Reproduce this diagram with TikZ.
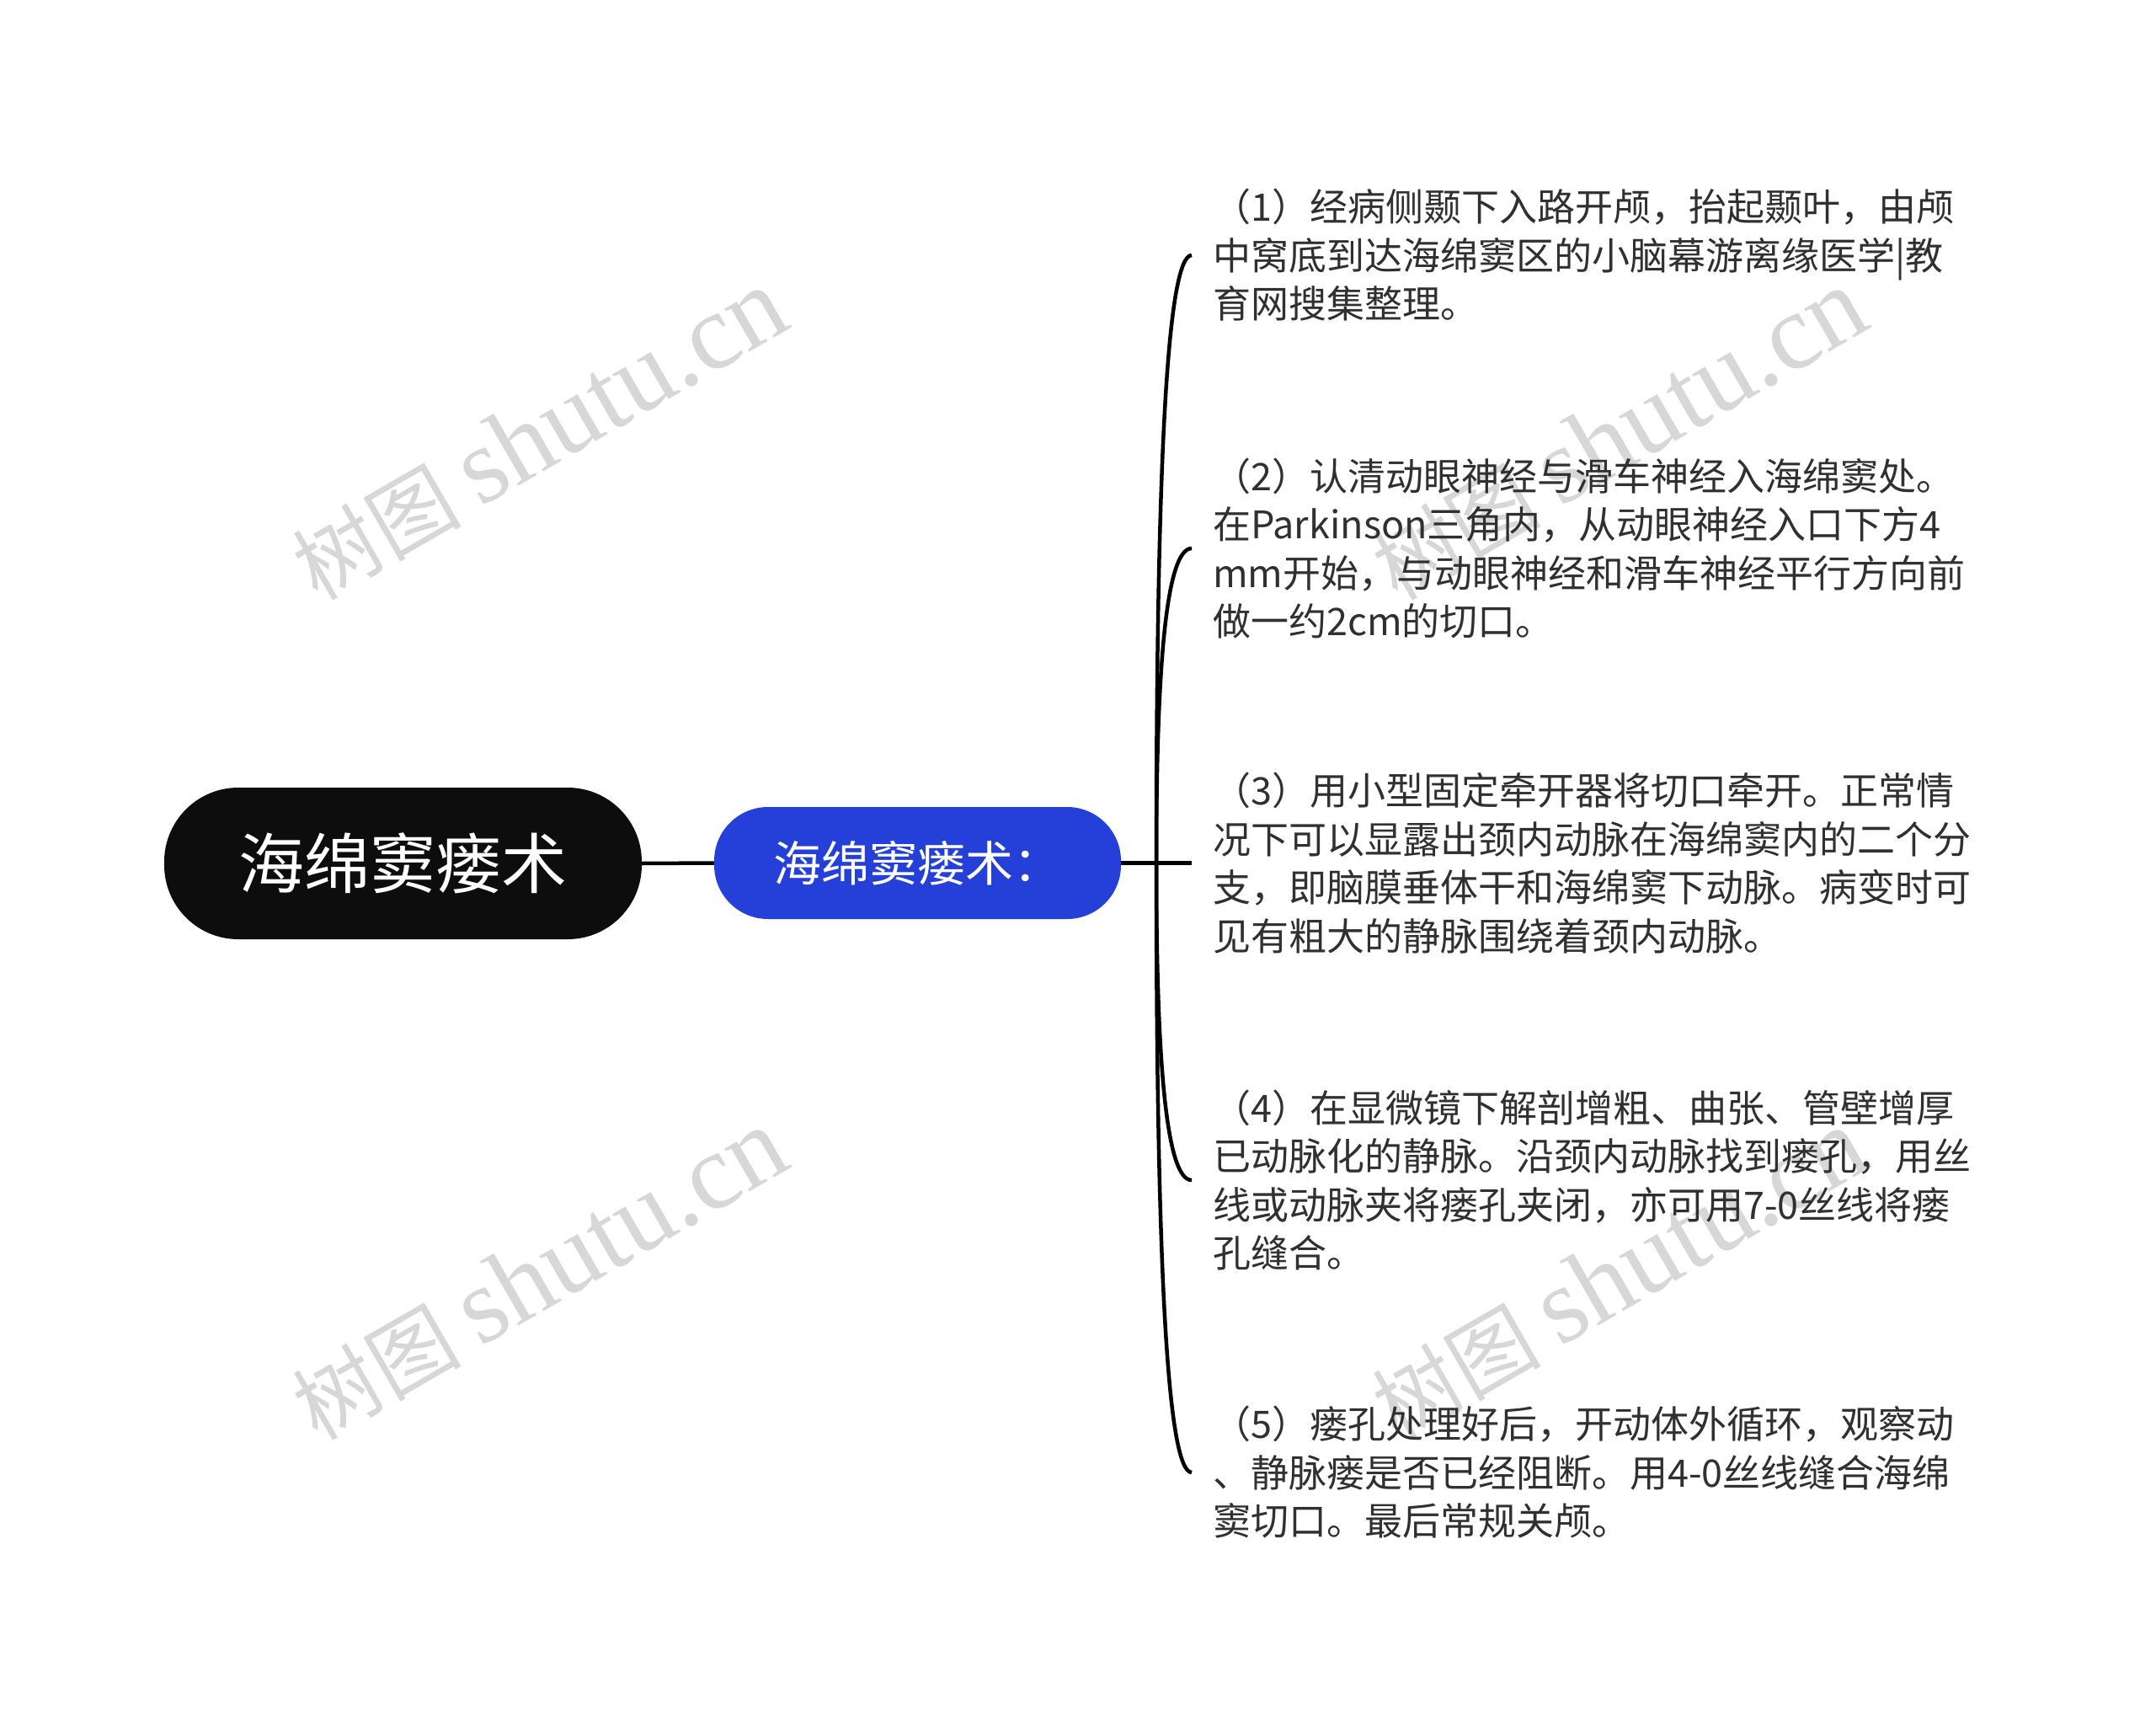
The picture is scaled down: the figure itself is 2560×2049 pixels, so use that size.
\documentclass[tikz,border=0pt]{standalone}
\usepackage{fontspec}
\setmainfont{Noto Sans CJK SC}
\newfontfamily\wmlatin{Liberation Serif}
\usetikzlibrary{calc}
\definecolor{rootfill}{RGB}{13,13,13}
\definecolor{subfill}{RGB}{37,64,217}
\definecolor{leaftext}{RGB}{48,48,48}
\definecolor{wmgray}{RGB}{215,215,215}
\begin{document}
\begin{tikzpicture}[x=1pt,y=-1pt,
  conn/.style={line width=4.5pt, draw=black},
  rootnode/.style={fill=rootfill, text=white, rounded corners=88pt, minimum width=567pt, minimum height=180pt, inner sep=0pt, font=\fontsize{78}{90}\selectfont},
  subnode/.style={fill=subfill, text=white, rounded corners=64pt, minimum width=483pt, minimum height=133pt, inner sep=0pt, font=\fontsize{57}{66}\selectfont},
  leaf/.style={anchor=west, align=left, inner xsep=25pt, inner ysep=0pt, text=leaftext, font=\fontsize{45}{57.5}\selectfont},
  wm/.style={text=wmgray, rotate=30, font=\fontsize{100}{130}\selectfont, inner sep=0pt}
]
\useasboundingbox (0,0) rectangle (2560,2049);
\fill[white] (0,0) rectangle (2560,2049);
% watermarks
\node[wm] (wm1) at (640,516) {树图 {\wmlatin\fontsize{128}{130}\selectfont shutu.cn}};
\node[wm] (wm2) at (640,1513) {树图 {\wmlatin\fontsize{128}{130}\selectfont shutu.cn}};
\node[wm] (wm3) at (1922,516) {树图 {\wmlatin\fontsize{128}{130}\selectfont shutu.cn}};
\node[wm] (wm4) at (1922,1513) {树图 {\wmlatin\fontsize{128}{130}\selectfont shutu.cn}};
% main nodes
\node[rootnode] (root) at (478.5,1025) {海绵窦瘘术};
\node[subnode] (sub) at (1089.5,1024.5) {海绵窦瘘术：};
% leaves
\node[leaf] (l1) at (1415,303) {（1）经病侧颞下入路开颅，抬起颞叶，由颅\\中窝底到达海绵窦区的小脑幕游离缘医学|教\\育网搜集整理。};
\node[leaf] (l2) at (1415,651) {（2）认清动眼神经与滑车神经入海绵窦处。\\在Parkinson三角内，从动眼神经入口下方4\\mm开始，与动眼神经和滑车神经平行方向前\\做一约2cm的切口。};
\node[leaf] (l3) at (1415,1024.5) {（3）用小型固定牵开器将切口牵开。正常情\\况下可以显露出颈内动脉在海绵窦内的二个分\\支，即脑膜垂体干和海绵窦下动脉。病变时可\\见有粗大的静脉围绕着颈内动脉。};
\node[leaf] (l4) at (1415,1401) {（4）在显微镜下解剖增粗、曲张、管壁增厚\\已动脉化的静脉。沿颈内动脉找到瘘孔，用丝\\线或动脉夹将瘘孔夹闭，亦可用7-0丝线将瘘\\孔缝合。};
\node[leaf] (l5) at (1415,1748) {（5）瘘孔处理好后，开动体外循环，观察动\\、静脉瘘是否已经阻断。用4-0丝线缝合海绵\\窦切口。最后常规关颅。};
% connectors
\coordinate (J) at (1373,1024.5);
\draw[conn] (root.east) -- (sub.west);
\draw[conn] (sub.east) -- (l3.west);
\foreach \l in {l1,l2,l4,l5}{
  \draw[conn] (J) .. controls ($(J)!0.65!(J |- \l.west)$) and ($(J |- \l.west)!0.3!(\l.west)$) .. (\l.west);
}
\end{tikzpicture}
\end{document}
